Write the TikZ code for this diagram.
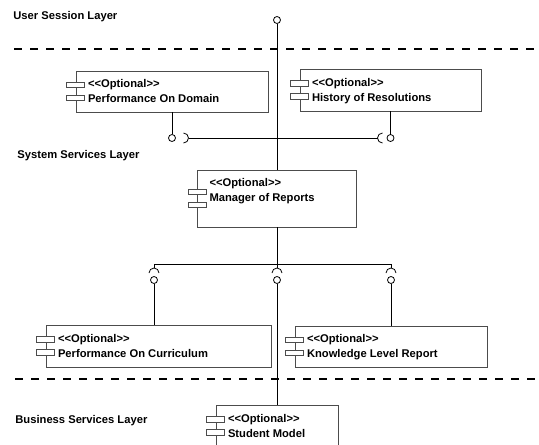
\documentclass[tikz,border=0pt]{standalone}
\usepackage{fontspec}
\setmainfont{Liberation Sans}
\newcommand{\optl}{\mbox{<}\mbox{<}Optional\mbox{>}\mbox{>}}
\tikzset{
  comp/.style={draw=black!70, fill=white, inner sep=0pt},
  comptab/.style={draw=black!70, fill=white, inner sep=0pt,
    minimum width=18pt, minimum height=5.5pt},
  comptext/.style={anchor=north west, align=left, inner sep=0pt},
  ball/.style={circle, draw, fill=white, inner sep=0pt, minimum size=7pt},
  sep/.style={line width=2.6pt, dash pattern=on 8pt off 8pt},
  layername/.style={anchor=west, inner sep=0pt}
}
\begin{document}
\begin{tikzpicture}[x=1pt,y=-1pt,line width=0.8pt,
  font=\bfseries\fontsize{11.2}{15}\selectfont]
 \useasboundingbox (0,0) rectangle (539,445);
 \clip (0,0) rectangle (539,445);
 % layers
 \node[layername] (usl) at (13,17) {User Session Layer};
 \node[layername] (ssl) at (17,156) {System Services Layer};
 \node[layername] (bsl) at (15,421) {Business Services Layer};
 \draw[sep] (14,49) -- (539,49);
 \draw[sep] (15,379) -- (539,379);
 % components
 \node[comp, minimum width=192pt, minimum height=41pt] (pod) at (172,91.5) {};
 \node[comp, minimum width=181pt, minimum height=42pt] (hor) at (390.5,90) {};
 \node[comp, minimum width=159pt, minimum height=57pt] (mgr) at (277,198.5) {};
 \node[comp, minimum width=225pt, minimum height=42pt] (poc) at (158.5,346) {};
 \node[comp, minimum width=192pt, minimum height=41pt] (klr) at (391,346.5) {};
 \node[comp, minimum width=122pt, minimum height=42pt] (stm) at (277,426) {};
 \foreach \c in {pod,hor,mgr,poc,klr,stm} {
   \node[comptab] (\c-t1) at ([yshift=6.5pt]\c.west) {};
   \node[comptab] (\c-t2) at ([yshift=-6.5pt]\c.west) {};
 }
 \node[comptext] (pod-txt) at ([shift={(12,8.5)}]pod.north west) {\optl\\Performance On Domain};
 \node[comptext] (hor-txt) at ([shift={(12,9.5)}]hor.north west) {\optl\\History of Resolutions};
 \node[comptext] (mgr-txt) at ([shift={(12,8)}]mgr.north west) {\optl\\Manager of Reports};
 \node[comptext] (poc-txt) at ([shift={(12,9)}]poc.north west) {\optl\\Performance On Curriculum};
 \node[comptext] (klr-txt) at ([shift={(12,8)}]klr.north west) {\optl\\Knowledge Level Report};
 \node[comptext] (stm-txt) at ([shift={(12,9)}]stm.north west) {\optl\\Student Model};
 % top interface
 \node[ball] (topball) at (277,20) {};
 \draw (topball) -- (mgr.north);
 % provided / required between pod and hor
 \node[ball] (podball) at (172,138) {};
 \draw (pod.south) -- (podball);
 \coordinate (podsock) at (183.5,138);
 \draw ([yshift=5pt]podsock) arc[start angle=90,end angle=-90,radius=5pt];
 \node[ball] (horball) at (390.5,138) {};
 \draw (hor.south) -- (horball);
 \coordinate (horsock) at (382.5,138);
 \draw ([yshift=5pt]horsock) arc[start angle=90,end angle=270,radius=5pt];
 \draw ([xshift=5pt]podsock) -- ([xshift=-5pt]horsock);
 % lower interfaces
 \coordinate (bus) at (277,264);
 \foreach \n/\x in {a/154,b/277,c/391} {
   \coordinate (sock\n) at (\x,273);
   \node[ball] (ball\n) at (\x,280) {};
   \draw ([xshift=-5pt]sock\n) arc[start angle=180,end angle=0,radius=5pt];
 }
 \draw ([yshift=5pt]socka) |- (bus -| sockc) -- ([yshift=5pt]sockc);
 \draw (mgr.south) -- ([yshift=5pt]sockb);
 \draw (balla) -- (balla |- poc.north);
 \draw (ballb) -- (stm.north);
 \draw (ballc) -- (klr.north);
\end{tikzpicture}
\end{document}
